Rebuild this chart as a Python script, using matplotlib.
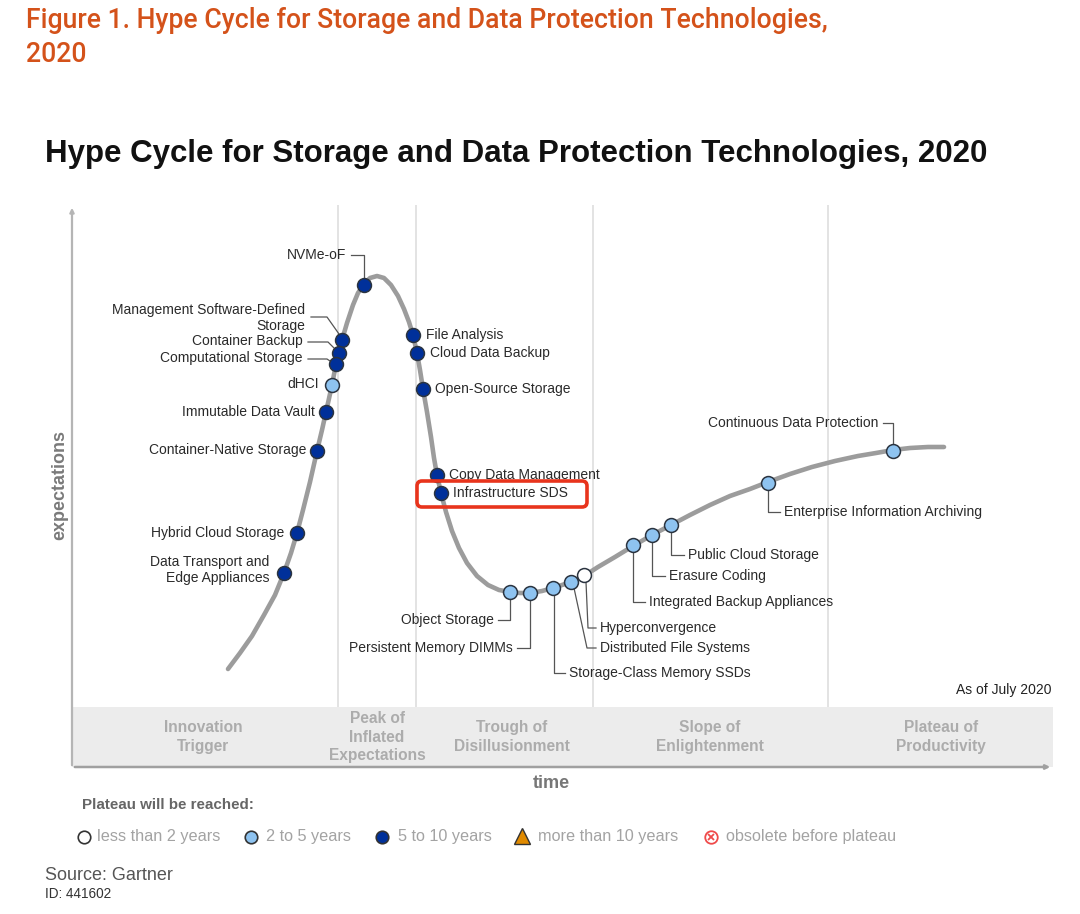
import matplotlib
matplotlib.use("Agg")
import matplotlib.pyplot as plt
from matplotlib.patches import FancyBboxPatch

plt.rcParams['font.family'] = ['Liberation Sans', 'DejaVu Sans']

# hype curve (time, expectations)
curve_t = [156, 168, 180, 192, 203, 212, 219, 225, 231, 238, 245, 250, 254, 260, 264, 267, 270,
           275, 281, 286, 292, 298, 305, 312, 319, 326, 332, 337, 341, 345, 348, 351, 355, 359,
           362, 365, 369, 374, 380, 387, 395, 405, 416, 427, 438, 448, 458, 470, 481, 490, 499,
           512, 526, 543, 561, 580, 599, 618, 638, 658, 678, 696, 718, 740, 763, 786, 804, 821,
           838, 856, 872]
curve_e = [98, 114, 131, 152, 172, 194, 214, 234, 257, 285, 316, 337, 355, 382, 403, 414, 427,
           444, 462, 474, 483, 489, 491, 489, 482, 471, 458, 445, 432, 414, 397, 378, 355, 330,
           309, 292, 274, 255, 236, 219, 204, 191, 182, 177, 175, 174, 174, 176, 179, 182, 185,
           191, 200, 210, 221, 232, 242, 252, 262, 271, 278, 285, 293, 300, 306, 311, 314, 317,
           319, 320, 320]

# technologies on the curve
tech_names = ["NVMe-oF", "Management Software-Defined\nStorage", "Container Backup",
              "Computational Storage", "dHCI", "Immutable Data Vault", "Container-Native Storage",
              "Hybrid Cloud Storage", "Data Transport and\nEdge Appliances", "File Analysis",
              "Cloud Data Backup", "Open-Source Storage", "Copy Data Management",
              "Infrastructure SDS", "Object Storage", "Persistent Memory DIMMs",
              "Storage-Class Memory SSDs", "Distributed File Systems", "Hyperconvergence",
              "Integrated Backup Appliances", "Erasure Coding", "Public Cloud Storage",
              "Enterprise Information Archiving", "Continuous Data Protection"]
tech_t = [292, 270, 267, 264, 260, 254, 245, 225, 212, 341, 345, 351, 365, 369,
          438, 458, 481, 499, 512, 561, 580, 599, 696, 821]
tech_e = [482, 427, 414, 403, 382, 355, 316, 234, 194, 432, 414, 378, 292, 274,
          175, 174, 179, 185, 192, 222, 232, 242, 284, 316]
# years to plateau: 0 = <2, 1 = 2-5, 2 = 5-10
tech_years = [2, 2, 2, 2, 1, 2, 2, 2, 2, 2, 2, 2, 2, 2,
              1, 1, 1, 1, 0, 1, 1, 1, 1, 1]

phases = ["Innovation\nTrigger", "Peak of\nInflated\nExpectations", "Trough of\nDisillusionment",
          "Slope of\nEnlightenment", "Plateau of\nProductivity"]
phase_bounds = [266, 344, 521, 756]
phase_mid = [131, 305, 440, 638, 869]

legend_labels = ["less than 2 years", "2 to 5 years", "5 to 10 years",
                 "more than 10 years", "obsolete before plateau"]

year_colors = ['white', '#8ec3f0', '#00309a']

# label layout: text offset (dx, dy) in px from the dot, alignment, leader offsets
layout = [
    ((-18, 30), 'right', [(-13, 30), (0, 30), (0, 7)]),
    ((-37, 22), 'right', [(-31, 23), (-15, 23), (-3, 6)]),
    ((-36, 12), 'right', [(-31, 11), (-11, 11), (-3, 3)]),
    ((-33, 6), 'right', [(-28, 5), (-9, 5), (-3, 1)]),
    ((-13, 1), 'right', None),
    ((-11, 0), 'right', None),
    ((-11, 1), 'right', None),
    ((-13, 0), 'right', None),
    ((-15, 3), 'right', None),
    ((13, 0), 'left', None),
    ((13, 0), 'left', None),
    ((12, 0), 'left', None),
    ((12, 0), 'left', None),
    ((12, 0), 'left', None),
    ((-16, -28), 'right', [(-12, -28), (0, -28), (0, -7)]),
    ((-17, -55), 'right', [(-13, -55), (0, -55), (0, -7)]),
    ((16, -85), 'left', [(12, -85), (1, -85), (1, -7)]),
    ((29, -66), 'left', [(25, -66), (16, -66), (3, -6)]),
    ((16, -53), 'left', [(12, -53), (4, -53), (2, -7)]),
    ((16, -57), 'left', [(12, -57), (0, -57), (0, -7)]),
    ((17, -41), 'left', [(13, -41), (0, -41), (0, -7)]),
    ((17, -30), 'left', [(13, -30), (0, -30), (0, -7)]),
    ((16, -29), 'left', [(12, -29), (0, -29), (0, -7)]),
    ((-15, 28), 'right', [(-10, 28), (0, 28), (0, 7)]),
]

W, H = 1080, 914
fig = plt.figure(figsize=(W / 100, H / 100), dpi=100)

ax = fig.add_axes([72 / W, (H - 767) / H, 981 / W, 562 / H])
ax.set_xlim(0, 981)
ax.set_ylim(0, 562)
ax.axis('off')

# phase band and dividers
ax.axhspan(0, 60, fc='#ececec', ec='none', zorder=0)
ax.vlines(phase_bounds, 60, 562, color='#dedede', lw=1.2, zorder=0)
for name, mid in zip(phases, phase_mid):
    ax.text(mid, 30, name, ha='center', va='center', fontsize=11.2, fontweight='bold',
            color='#acacac', linespacing=1.3)

# axes arrows
ax.annotate('', xy=(0, 562), xytext=(0, -1),
            arrowprops=dict(arrowstyle='-|>', color='#b5b5b5', lw=1.6, mutation_scale=6))
ax.annotate('', xy=(981, 0), xytext=(0, 0),
            arrowprops=dict(arrowstyle='-|>', color='#a0a0a0', lw=1.8, mutation_scale=6))

# the curve
ax.plot(curve_t, curve_e, color='#9c9c9c', lw=3.3, solid_capstyle='round', zorder=2)

# dots, labels and leaders
for name, t, e, yr, (off, ha, lead) in zip(tech_names, tech_t, tech_e, tech_years, layout):
    if lead:
        ax.plot([t + p[0] for p in lead], [e + p[1] for p in lead], color='#555555',
                lw=0.9, zorder=3)
    ax.text(t + off[0], e + off[1], name, ha=ha, va='center', fontsize=10, color='#2a2a2a',
            multialignment=ha, linespacing=1.15, zorder=4)
    ax.plot(t, e, 'o', ms=10, mfc=year_colors[yr], mec='#2b3440', mew=1.1, zorder=5)

ax.text(979, 77, "As of July 2020", ha='right', va='center', fontsize=10, color='#222222')

# decorations in pixel coordinates
deco = fig.add_axes([0, 0, 1, 1])
deco.set_xlim(0, W)
deco.set_ylim(H, 0)
deco.axis('off')

deco.text(26, 20, "Figure 1. Hype Cycle for Storage and Data Protection Technologies,",
          ha='left', va='center', fontsize=19.2, fontweight='medium', color='#d4521a',
          family='Roboto')
deco.text(26, 55, "2020", ha='left', va='center', fontsize=19.2, fontweight='medium',
          color='#d4521a', family='Roboto')
deco.text(45, 154, "Hype Cycle for Storage and Data Protection Technologies, 2020",
          ha='left', va='center', fontsize=22.5, fontweight='bold', color='#111111')

deco.text(551, 784, "time", ha='center', va='center', fontsize=13, fontweight='bold',
          color='#777777')
deco.text(60, 485, "expectations", ha='center', va='center', rotation=90, fontsize=13,
          fontweight='bold', color='#7a7a7a')

box = FancyBboxPatch((417, 481), 170, 26, boxstyle='round,pad=0,rounding_size=5',
                     fc='none', ec='#e8341c', lw=2.6)
deco.add_patch(box)

# legend
deco.text(82, 805, "Plateau will be reached:", ha='left', va='center', fontsize=10.9,
          fontweight='bold', color='#666666')
leg_mark_x = [84, 251, 382, 522, 711]
leg_text_x = [97, 266, 398, 538, 726]
for i in range(3):
    deco.plot(leg_mark_x[i], 837, 'o', ms=9, mfc=year_colors[i], mec='#333333', mew=1.2)
deco.plot(leg_mark_x[3], 836, '^', ms=11, mfc='#e08a00', mec='#333333', mew=1.0)
deco.plot(leg_mark_x[4], 837, 'o', ms=9, mfc='none', mec='#ef4a4a', mew=1.3)
deco.plot(leg_mark_x[4], 837, 'x', ms=5, mec='#ef4a4a', mew=1.3)
for x, lab in zip(leg_text_x, legend_labels):
    deco.text(x, 837, lab, ha='left', va='center', fontsize=11.7, color='#a3a3a3')

deco.text(45, 876, "Source: Gartner", ha='left', va='center', fontsize=13, color='#555555')
deco.text(45, 894, "ID: 441602", ha='left', va='center', fontsize=9.8, color='#333333')

fig.savefig('out.png', dpi=100, facecolor='white')
